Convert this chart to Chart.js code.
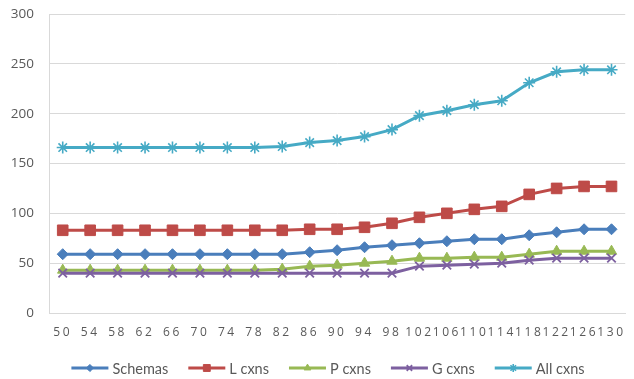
<!DOCTYPE html>
<html>
<head>
<meta charset="utf-8">
<script src="https://cdn.jsdelivr.net/npm/chart.js@4.4.0/dist/chart.umd.min.js"></script>
<style>
  html, body { margin: 0; padding: 0; background: #ffffff; }
  #wrap { width: 634px; height: 379px; position: relative; }
</style>
</head>
<body>
<div id="wrap"><canvas id="chart" width="634" height="379"></canvas></div>
<script>
// Category labels along the x axis
const sizes = [50, 54, 58, 62, 66, 70, 74, 78, 82, 86, 90, 94, 98, 102, 106, 110, 114, 118, 122, 126, 130];

// Series values, one entry per category
const schemas = [59, 59, 59, 59, 59, 59, 59, 59, 59, 61, 63, 66, 68, 70, 72, 74, 74, 78, 81, 84, 84];
const lCxns   = [83, 83, 83, 83, 83, 83, 83, 83, 83, 84, 84, 86, 90, 96, 100, 104, 107, 119, 125, 127, 127];
const pCxns   = [43, 43, 43, 43, 43, 43, 43, 43, 44, 47, 48, 50, 52, 55, 55, 56, 56, 59, 62, 62, 62];
const gCxns   = [40, 40, 40, 40, 40, 40, 40, 40, 40, 40, 40, 40, 40, 47, 48, 49, 50, 53, 55, 55, 55];
const allCxns = [166, 166, 166, 166, 166, 166, 166, 166, 167, 171, 173, 177, 184, 198, 203, 209, 213, 231, 242, 244, 244];

// Value axis ticks
const yTicks = [0, 50, 100, 150, 200, 250, 300];

const seriesNames = ['Schemas', 'L cxns', 'P cxns', 'G cxns', 'All cxns'];
const seriesValues = [schemas, lCxns, pCxns, gCxns, allCxns];
const seriesColors = ['#4A7EBB', '#BE4B48', '#98B954', '#7D60A0', '#46AAC5'];
const markerStyles = ['rectRot', 'rect', 'triangle', 'crossRot', 'star'];
const markerRadii  = [5.5, 7.5, 6, 6, 6];
const markerBorder = [1, 1, 1, 1.8, 1.6];

const datasets = seriesNames.map((name, i) => ({
  label: name,
  data: seriesValues[i],
  borderColor: seriesColors[i],
  backgroundColor: seriesColors[i],
  borderWidth: 3,
  tension: 0,
  pointStyle: markerStyles[i],
  pointRadius: markerRadii[i],
  pointBorderWidth: markerBorder[i],
  pointBackgroundColor: seriesColors[i],
  pointBorderColor: seriesColors[i],
  order: seriesNames.length - i
}));

// Wider letter spacing for the category labels
const spacedCategoryLabels = {
  id: 'spacedCategoryLabels',
  afterLayout(chart) {
    const xs = chart.scales.x;
    if (!xs || xs._spaced) return;
    const base = xs.drawLabels;
    xs.drawLabels = function (area) {
      const ctx = this.ctx;
      const prev = ctx.letterSpacing;
      ctx.letterSpacing = '2.6px';
      base.call(this, area);
      ctx.letterSpacing = prev;
    };
    xs._spaced = true;
  }
};

// Legend row under the axis: line segment with marker, then the series name
const lineLegend = {
  id: 'lineLegend',
  afterDraw(chart) {
    const ctx = chart.ctx;
    const segW = 37, textGap = 4, itemGap = 20, y = 368, centerX = 328;
    ctx.save();
    ctx.font = '14.5px Lato';
    const items = chart.data.datasets.map(ds => ({
      ds, textW: ctx.measureText(ds.label).width
    }));
    const total = items.reduce((s, it) => s + segW + textGap + it.textW, 0) + itemGap * (items.length - 1);
    let x = centerX - total / 2;
    items.forEach(it => {
      const ds = it.ds;
      ctx.strokeStyle = ds.borderColor;
      ctx.fillStyle = ds.borderColor;
      ctx.lineWidth = 3;
      ctx.beginPath();
      ctx.moveTo(x, y);
      ctx.lineTo(x + segW, y);
      ctx.stroke();
      ctx.lineWidth = ds.pointBorderWidth;
      Chart.helpers.drawPoint(ctx, {
        pointStyle: ds.pointStyle,
        radius: ds.pointRadius * 0.65,
        borderWidth: ds.pointBorderWidth,
        rotation: 0
      }, x + segW / 2, y);
      ctx.fillStyle = '#595959';
      ctx.textBaseline = 'middle';
      ctx.textAlign = 'left';
      ctx.fillText(ds.label, x + segW + textGap, y + 1);
      x += segW + textGap + it.textW + itemGap;
    });
    ctx.restore();
  }
};

new Chart(document.getElementById('chart'), {
  type: 'line',
  data: { labels: sizes, datasets },
  options: {
    responsive: false,
    animation: false,
    devicePixelRatio: 1,
    layout: { padding: { top: 14, left: 0, right: 0, bottom: 0 } },
    plugins: {
      legend: { display: false },
      tooltip: { enabled: false }
    },
    scales: {
      x: {
        type: 'category',
        offset: true,
        grid: { display: false, drawTicks: false },
        border: { display: true, color: '#D9D9D9', width: 1 },
        ticks: {
          autoSkip: false,
          maxRotation: 0,
          minRotation: 0,
          padding: 12,
          color: '#595959',
          font: { family: 'Open Sans', size: 12 }
        },
        afterFit(scale) { scale.height = 66; }
      },
      y: {
        min: 0,
        max: 300,
        afterBuildTicks(scale) { scale.ticks = yTicks.map(v => ({ value: v })); },
        grid: { color: '#D9D9D9', lineWidth: 1, drawTicks: false },
        border: { display: true, color: '#D9D9D9', width: 1 },
        ticks: {
          padding: 15,
          color: '#595959',
          font: { family: 'Open Sans', size: 13.5 }
        },
        afterFit(scale) {
          scale.width = 49;
          scale.paddingTop = 0;
          scale.paddingBottom = 0;
        }
      }
    }
  },
  plugins: [spacedCategoryLabels, lineLegend]
});
</script>
</body>
</html>
